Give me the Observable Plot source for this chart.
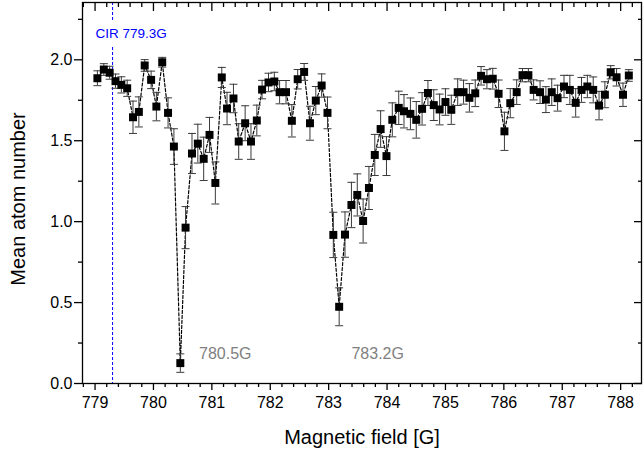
<!DOCTYPE html>
<html><head><meta charset="utf-8">
<script src="https://cdn.jsdelivr.net/npm/d3@7"></script>
<script src="https://cdn.jsdelivr.net/npm/@observablehq/plot@0.6"></script>
<style>
body{margin:0;background:#fff;}
svg{font-family:"Liberation Sans",Arial,sans-serif;}
</style>
</head><body><div id="chart"></div>
<script>
// Magnetic field (G)
const field = [779.04,779.15,779.25,779.35,779.45,779.55,779.65,779.75,779.85,779.96,
780.05,780.15,780.25,780.35,780.46,780.55,780.66,780.76,780.86,780.96,
781.06,781.17,781.26,781.37,781.46,781.57,781.67,781.77,781.86,781.97,
782.07,782.16,782.27,782.37,782.47,782.58,782.68,782.78,782.88,782.98,
783.08,783.18,783.28,783.39,783.49,783.59,783.69,783.79,783.89,783.99,
784.09,784.20,784.29,784.40,784.50,784.60,784.70,784.80,784.90,785.00,
785.10,785.21,785.31,785.41,785.51,785.61,785.71,785.81,785.91,786.01,
786.11,786.22,786.32,786.42,786.51,786.62,786.72,786.82,786.92,787.03,
787.13,787.23,787.33,787.43,787.53,787.63,787.73,787.83,787.93,788.04,788.14];
// Mean atom number
const atoms = [1.886,1.940,1.920,1.868,1.845,1.824,1.645,1.678,1.965,1.876,
1.711,1.985,1.672,1.464,0.126,0.963,1.421,1.482,1.388,1.536,
1.239,1.891,1.699,1.761,1.495,1.608,1.495,1.625,1.816,1.860,
1.866,1.800,1.800,1.623,1.880,1.925,1.608,1.748,1.841,1.672,
0.918,0.474,0.920,1.103,1.165,1.004,1.208,1.412,1.572,1.405,
1.629,1.703,1.682,1.666,1.629,1.697,1.795,1.720,1.693,1.739,
1.691,1.800,1.800,1.765,1.793,1.901,1.880,1.883,1.790,1.558,
1.732,1.800,1.905,1.905,1.814,1.800,1.754,1.800,1.763,1.835,
1.814,1.734,1.814,1.835,1.814,1.717,1.784,1.923,1.892,1.784,1.903];
// Error (half length)
const errs = [0.046,0.036,0.040,0.044,0.050,0.050,0.100,0.093,0.036,0.054,
0.088,0.030,0.093,0.110,0.057,0.130,0.124,0.120,0.134,0.108,
0.130,0.062,0.100,0.088,0.110,0.108,0.110,0.095,0.057,0.057,
0.057,0.072,0.072,0.100,0.060,0.052,0.105,0.087,0.072,0.098,
0.140,0.117,0.140,0.140,0.130,0.136,0.133,0.127,0.113,0.120,
0.105,0.103,0.103,0.098,0.113,0.100,0.077,0.095,0.095,0.082,
0.090,0.082,0.074,0.088,0.082,0.057,0.059,0.064,0.085,0.118,
0.090,0.076,0.041,0.041,0.062,0.070,0.080,0.082,0.080,0.069,
0.090,0.088,0.077,0.069,0.080,0.088,0.080,0.041,0.054,0.072,0.036];

const xMajorTicks = [779,780,781,782,783,784,785,786,787,788];
const xMinorTicks = d3.range(3894, 3942).filter(i => i % 5 !== 0).map(i => i / 5);
const yMajorTicks = [0, 0.5, 1.0, 1.5, 2.0];
const yMinorTicks = [0.25, 0.75, 1.25, 1.75, 2.25];

const cirField = [779.3];
const cirLabel = ["CIR 779.3G"];
const annText = ["780.5G", "783.2G"];
const annX = [780.78, 783.39];
const annY = [0.185, 0.185];

const data = field.map((x, i) => ({x, y: atoms[i], e: errs[i]}));
const cirData = cirField.map((x, i) => ({x, label: cirLabel[i]}));
const annData = annText.map((t, i) => ({t, x: annX[i], y: annY[i]}));

const capSymbol = {draw(ctx) { ctx.moveTo(-4, 0); ctx.lineTo(4, 0); }};
const blank = () => "";
const errColor = "#3a3a3a";

const chart = Plot.plot({
  width: 643,
  height: 455,
  marginLeft: 82,
  marginRight: 2,
  marginTop: 2,
  marginBottom: 72,
  x: {domain: [778.785, 788.357]},
  y: {domain: [0, 2.354]},
  style: {fontFamily: "'Liberation Sans', Arial, sans-serif", background: "white", color: "black"},
  marks: [
    Plot.ruleX(cirData, {x: "x", stroke: "#0000ff", strokeWidth: 1, strokeDasharray: "3,2"}),
    Plot.text(cirData, {x: "x", y: 2.163, text: "label", textAnchor: "start", dx: -17, fill: "#0000ff",
      stroke: "white", strokeWidth: 16, fontSize: 13.5}),
    Plot.line(data, {x: "x", y: "y", stroke: "black", strokeWidth: 1.2, strokeDasharray: "3,2"}),
    Plot.ruleX(data, {x: "x", y1: d => d.y - d.e, y2: d => d.y + d.e, stroke: errColor, strokeWidth: 1}),
    Plot.dot(data, {x: "x", y: d => d.y + d.e, symbol: capSymbol, stroke: errColor, fill: "none", strokeWidth: 1, r: 1}),
    Plot.dot(data, {x: "x", y: d => d.y - d.e, symbol: capSymbol, stroke: errColor, fill: "none", strokeWidth: 1, r: 1}),
    Plot.dot(data, {x: "x", y: "y", symbol: "square", r: 4.5, fill: "black", stroke: "none"}),
    Plot.text(annData, {x: "x", y: "y", text: "t", textAnchor: "start", fill: "#808080", fontSize: 16}),
    Plot.frame({stroke: "black", strokeWidth: 1.3}),
    Plot.axisX({ticks: xMajorTicks, tickSize: 7, tickPadding: 6, fontSize: 16, label: null, strokeWidth: 1.3, tickFormat: d => String(d)}),
    Plot.axisX({ticks: xMinorTicks, tickSize: 4, tickFormat: blank, label: null, strokeWidth: 1.3}),
    Plot.axisX({anchor: "top", ticks: xMajorTicks, tickSize: -8, tickFormat: blank, label: null, strokeWidth: 1.3}),
    Plot.axisX({anchor: "top", ticks: xMinorTicks, tickSize: -4, tickFormat: blank, label: null, strokeWidth: 1.3}),
    Plot.axisY({ticks: yMajorTicks, tickSize: 8, tickPadding: 2, fontSize: 16, label: null, strokeWidth: 1.3, tickFormat: d3.format(".1f")}),
    Plot.axisY({ticks: yMinorTicks, tickSize: 4, tickFormat: blank, label: null, strokeWidth: 1.3}),
    Plot.axisY({anchor: "right", ticks: yMajorTicks, tickSize: -8, tickFormat: blank, label: null, strokeWidth: 1.3}),
    Plot.axisY({anchor: "right", ticks: yMinorTicks, tickSize: -4, tickFormat: blank, label: null, strokeWidth: 1.3}),
    Plot.text(["Magnetic field [G]"], {frameAnchor: "bottom", lineAnchor: "middle", textAnchor: "middle", dy: 54, fontSize: 20, fill: "black"}),
    Plot.text(["Mean atom number"], {frameAnchor: "left", textAnchor: "middle", lineAnchor: "middle", rotate: -90, dx: -64, dy: 6, fontSize: 20, fill: "black"})
  ]
});
document.getElementById("chart").appendChild(chart);
</script>
</body></html>
